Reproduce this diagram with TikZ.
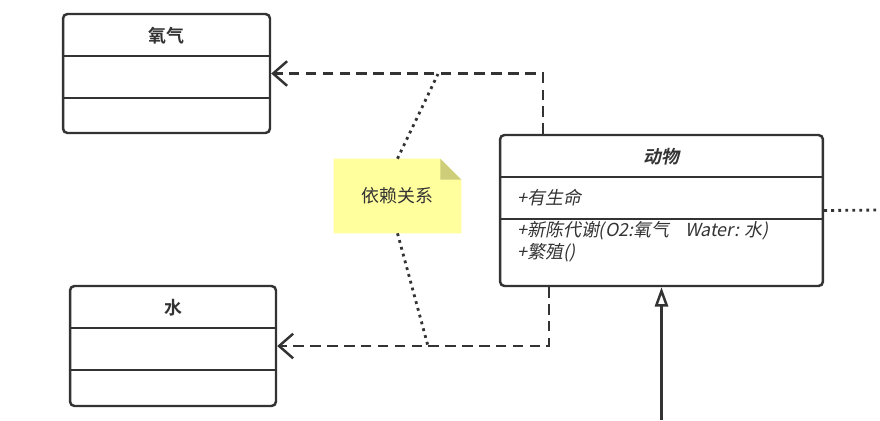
\documentclass[tikz,border=0pt]{standalone}
\usepackage{fontspec}
\setmainfont{Noto Sans CJK SC}[
  BoldFont={Noto Sans CJK SC Bold},
  ItalicFont={Noto Sans CJK SC},
  ItalicFeatures={FakeSlant=0.2},
  BoldItalicFont={Noto Sans CJK SC Bold},
  BoldItalicFeatures={FakeSlant=0.2}]
\usetikzlibrary{arrows.meta,backgrounds}
\definecolor{umlline}{HTML}{333333}
\definecolor{notefill}{HTML}{FFFF9E}
\definecolor{notefold}{HTML}{CDCD7A}

\begin{document}
\begin{tikzpicture}[x=0.02cm, y=-0.02cm,
    classbox/.style={draw=umlline, line width=1.4pt, rounded corners=2.5pt, fill=white, inner sep=0pt},
    divider/.style={draw=umlline, line width=1.4pt},
    label/.style={text=umlline, font=\fontsize{10.2}{12.5}\selectfont, inner sep=0pt},
    depend/.style={draw=umlline, line width=1.4pt, dash pattern=on 6pt off 3.6pt,
        -{Straight Barb[length=8pt,width=14pt]}},
    inherit/.style={draw=umlline, line width=1.4pt, -{Triangle[open,length=11pt,width=7.5pt,fill=white]}},
    noteline/.style={draw=umlline, line width=1.6pt, dash pattern=on 1.6pt off 2.4pt}]
    \useasboundingbox (0,0) rectangle (880,420);

    \node[classbox, minimum width=4.14cm, minimum height=2.38cm] (oxygen) at (166.5,73.5) {};
    \node[label, font=\fontsize{10.2}{12.5}\selectfont\bfseries] (oxygentitle) at (166.5,36) {氧气};
    \draw[divider] (oxygen.west |- 0,56) -- (oxygen.east |- 0,56);
    \draw[divider] (oxygen.west |- 0,98) -- (oxygen.east |- 0,98);

    \node[classbox, minimum width=4.12cm, minimum height=2.4cm] (water) at (173,346) {};
    \node[label, font=\fontsize{10.2}{12.5}\selectfont\bfseries] (watertitle) at (173,308) {水};
    \draw[divider] (water.west |- 0,328) -- (water.east |- 0,328);
    \draw[divider] (water.west |- 0,370) -- (water.east |- 0,370);

    \node[classbox, minimum width=6.46cm, minimum height=3.02cm] (animal) at (661.5,210.5) {};
    \node[label, font=\fontsize{10.2}{12.5}\selectfont\bfseries\itshape] (animaltitle) at (661.5,157) {动物};
    \draw[divider] (animal.west |- 0,177) -- (animal.east |- 0,177);
    \draw[divider] (animal.west |- 0,219) -- (animal.east |- 0,219);
    \node[label, anchor=west, font=\fontsize{10.2}{12.5}\selectfont\itshape] (attrs) at (517,198) {+有生命};
    \node[label, anchor=west, align=left, font=\fontsize{10.2}{12.5}\selectfont\itshape] (methods) at (517,242)
        {+新陈代谢(O2:氧气\hspace{0.9em}Water: 水)\\+繁殖()};

    \node[label, minimum width=2.54cm, minimum height=1.48cm] (note) at (397.5,196) {依赖关系};
    \begin{scope}[on background layer]
        \fill[notefill] (note.south west) -- (note.north west) -- ([xshift=-0.42cm]note.north east)
            -- ([yshift=-0.42cm]note.north east) -- (note.south east) -- cycle;
        \fill[notefold] ([xshift=-0.42cm]note.north east) -- ([yshift=-0.42cm]note.north east)
            -- ([xshift=-0.42cm,yshift=-0.42cm]note.north east) -- cycle;
    \end{scope}

    \coordinate (oxjoin) at (438,74);
    \coordinate (wajoin) at (428,346);
    \coordinate (rightend) at (880,210);
    \coordinate (subclass) at (661.5,420);

    \draw[depend] ([xshift=0.88cm]animal.north west) |- (oxygen.east);
    \draw[depend] ([xshift=1cm]animal.south west) |- (water.east);
    \draw[noteline] (note.north) -- (oxjoin);
    \draw[noteline] (note.south) -- (wajoin);
    \draw[noteline] (animal.east) -- (rightend);
    \draw[inherit] (subclass) -- (animal.south);
\end{tikzpicture}
\end{document}
